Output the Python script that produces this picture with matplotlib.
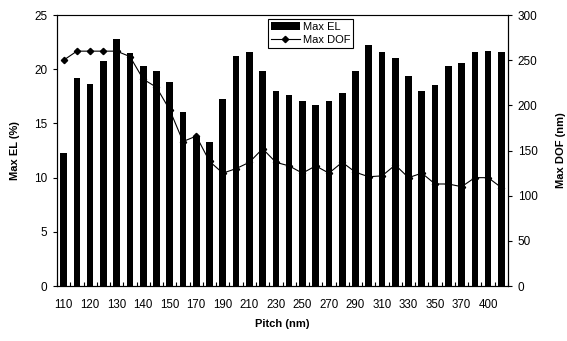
import numpy as np
import matplotlib.pyplot as plt

plt.rcParams['font.family'] = ['Liberation Sans', 'DejaVu Sans']

# pitch categories (nm) -- the axis is categorical, labelled every other slot
pitch = [110, 115, 120, 125, 130, 135, 140, 145, 150, 160, 170, 180, 190, 200,
         210, 220, 230, 240, 250, 260, 270, 280, 290, 300, 310, 320, 330, 340,
         350, 360, 370, 390, 400, 410]
max_el = [12.3, 19.2, 18.6, 20.8, 22.8, 21.5, 20.3, 19.8, 18.8, 16.1, 13.8, 13.3,
          17.3, 21.2, 21.6, 19.8, 18.0, 17.6, 17.1, 16.7, 17.1, 17.8, 19.8, 22.2,
          21.6, 21.0, 19.4, 18.0, 18.5, 20.3, 20.6, 21.6, 21.7, 21.6]
max_dof = [250, 260, 260, 260, 260, 254, 229, 220, 195, 160, 166, 138, 125, 130,
           137, 152, 137, 133, 125, 133, 125, 137, 126, 121, 122, 134, 120, 125,
           113, 113, 110, 120, 120, 109]

x = np.arange(len(pitch))

fig = plt.figure(figsize=(5.67, 3.41), dpi=100)
ax = fig.add_axes([0.1005, 0.161, 0.7955, 0.795])
ax2 = ax.twinx()

bars = ax.bar(x, max_el, width=0.5, color='black', label='Max EL', zorder=2)
line, = ax2.plot(x, max_dof, color='black', lw=0.8, marker='D', ms=3.2,
                 label='Max DOF', zorder=3)

ax.set_xlim(-0.5, len(pitch) - 0.5)
ax.set_ylim(0, 25)
ax.set_yticks(np.arange(0, 26, 5))
ax2.set_ylim(0, 300)
ax2.set_yticks(np.arange(0, 301, 50))

ax.set_xticks(x[::2])
ax.set_xticklabels([str(p) for p in pitch[::2]])
ax.set_xticks(np.arange(-0.5, len(pitch), 1), minor=True)
ax.tick_params(axis='x', which='major', length=0, pad=9, labelsize=8.3)
ax.tick_params(axis='x', which='minor', direction='in', length=3, width=0.8)
ax.tick_params(axis='y', direction='out', length=3, width=0.8, labelsize=8.5, pad=4)
ax2.tick_params(axis='y', direction='out', length=3, width=0.8, labelsize=8.5, pad=4)

for a in (ax, ax2):
    for s in a.spines.values():
        s.set_color('black')
        s.set_linewidth(0.8)
ax.spines['top'].set_color('#808080')

ax.set_xlabel('Pitch (nm)', fontsize=8, fontweight='bold', labelpad=6)
ax.set_ylabel('Max EL (%)', fontsize=8, fontweight='bold', labelpad=10)
ax2.set_ylabel('Max DOF (nm)', fontsize=8, fontweight='bold', labelpad=13)

leg = ax2.legend([bars, line], ['Max EL', 'Max DOF'], loc='upper left',
                 bbox_to_anchor=(0.468, 0.985), fontsize=8, frameon=True,
                 fancybox=False, edgecolor='black', framealpha=1,
                 borderpad=0.25, labelspacing=0.3, handlelength=2.6,
                 handletextpad=0.3, borderaxespad=0)
leg.get_frame().set_linewidth(0.8)

fig.savefig('out.png', dpi=100)
